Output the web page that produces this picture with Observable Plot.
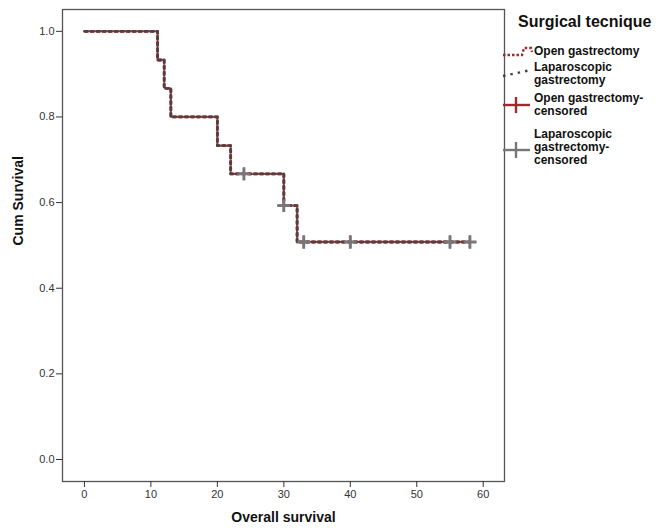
<!DOCTYPE html>
<html>
<head>
<meta charset="utf-8">
<script src="https://cdn.jsdelivr.net/npm/d3@7"></script>
<script src="https://cdn.jsdelivr.net/npm/@observablehq/plot@0.6"></script>
<style>
  body { margin: 0; background: #fff; font-family: "Liberation Sans", Arial, sans-serif; }
  #wrap { position: relative; width: 661px; height: 529px; overflow: hidden; }
  #legend { position: absolute; left: 0; top: 0; width: 661px; height: 529px; pointer-events: none; }
</style>
</head>
<body>
<div id="wrap"></div>
<script>
// Kaplan-Meier step values
const openTimes = [0, 11, 12, 13, 20, 22, 30, 32, 58];
const openSurv  = [1.0, 0.933, 0.867, 0.800, 0.733, 0.667, 0.593, 0.508, 0.508];
const lapTimes  = [0, 11, 12, 13, 20, 22, 30, 32, 58];
const lapSurv   = [1.0, 0.933, 0.867, 0.800, 0.733, 0.667, 0.593, 0.508, 0.508];
const censorTimes = [24, 30, 33, 40, 55, 58];
const censorSurv  = [0.667, 0.593, 0.508, 0.508, 0.508, 0.508];
const xTicks = [0, 10, 20, 30, 40, 50, 60];
const yTicks = [0, 0.2, 0.4, 0.6, 0.8, 1.0];
const legendTitle = "Surgical tecnique";
const legendItems = [
  ["Open gastrectomy"],
  ["Laparoscopic", "gastrectomy"],
  ["Open gastrectomy-", "censored"],
  ["Laparoscopic", "gastrectomy-", "censored"]
];

const openData = openTimes.map((t, i) => ({t, s: openSurv[i]}));
const lapData = lapTimes.map((t, i) => ({t, s: lapSurv[i]}));
const censorData = censorTimes.map((t, i) => ({t, s: censorSurv[i]}));

const RED = "#a3282e";
const DARK = "#4a4446";

const chart = Plot.plot({
  width: 661,
  height: 529,
  marginLeft: 62,
  marginRight: 157,
  marginTop: 9,
  marginBottom: 48,
  style: {fontFamily: "Liberation Sans, Arial, sans-serif", background: "#fff"},
  x: {domain: [-3.3, 63.2]},
  y: {domain: [-0.0514, 1.051]},
  marks: [
    Plot.frame({stroke: "#555", strokeWidth: 1.3}),
    Plot.axisX({ticks: xTicks, tickSize: 6, tickPadding: 3, fontSize: 11, label: null, stroke: "#333", color: "#333"}),
    Plot.axisY({ticks: yTicks, tickSize: 6, tickPadding: 2, fontSize: 11, label: null, tickFormat: d3.format(".1f"), stroke: "#333", color: "#333"}),
    Plot.text(["Overall survival"], {frameAnchor: "bottom", dy: 40, fontSize: 14, fontWeight: "bold", fill: "#111"}),
    Plot.text(["Cum Survival"], {frameAnchor: "left", dx: -44, rotate: -90, fontSize: 14, fontWeight: "bold", fill: "#111"}),
    Plot.line(openData, {x: "t", y: "s", curve: "step-after", stroke: RED, strokeWidth: 2.8, strokeDasharray: "3.5,2.5"}),
    Plot.line(lapData, {x: "t", y: "s", curve: "step-after", stroke: DARK, strokeWidth: 2.8, strokeDasharray: "1.8,4.2", strokeDashoffset: 5.2}),
    Plot.dot(censorData, {x: "t", y: "s", symbol: "plus", r: 4.2, stroke: RED, strokeWidth: 2.2}),
    Plot.dot(censorData, {x: "t", y: "s", symbol: "plus", r: 4.2, stroke: "#777", strokeWidth: 2.8})
  ]
});
const wrap = document.getElementById("wrap");
wrap.appendChild(chart);

// Legend drawn in an overlay SVG
const svg = d3.select(wrap).append("svg").attr("id", "legend").attr("width", 661).attr("height", 529);
svg.append("text").attr("x", 518).attr("y", 27).attr("font-size", 16).attr("font-weight", "bold")
  .attr("font-family", "Liberation Sans, Arial, sans-serif").attr("fill", "#111").text(legendTitle);
const lineY = [[51], [67, 80], [98, 111], [134, 147, 160]];
legendItems.forEach((lines, i) => {
  lines.forEach((ln, j) => {
    svg.append("text").attr("x", 534).attr("y", lineY[i][j] + 4).attr("font-size", 12).attr("font-weight", "bold")
      .attr("font-family", "Liberation Sans, Arial, sans-serif").attr("fill", "#111").text(ln);
  });
});
// samples
svg.append("path").attr("d", "M503,55 L522,55 L524,48 L531,48 L532,52").attr("fill", "none").attr("stroke", RED)
  .attr("stroke-width", 2.4).attr("stroke-dasharray", "2.5,2");
svg.append("path").attr("d", "M503,76 L531,70").attr("fill", "none").attr("stroke", "#444")
  .attr("stroke-width", 2.4).attr("stroke-dasharray", "2.5,5");
svg.append("line").attr("x1", 503).attr("x2", 530).attr("y1", 105).attr("y2", 105).attr("stroke", RED).attr("stroke-width", 2.4);
svg.append("line").attr("x1", 516).attr("x2", 516).attr("y1", 97).attr("y2", 113).attr("stroke", RED).attr("stroke-width", 2.4);
svg.append("line").attr("x1", 503).attr("x2", 530).attr("y1", 150).attr("y2", 150).attr("stroke", "#777").attr("stroke-width", 2.4);
svg.append("line").attr("x1", 516).attr("x2", 516).attr("y1", 142).attr("y2", 158).attr("stroke", "#777").attr("stroke-width", 2.4);
</script>
</body>
</html>
